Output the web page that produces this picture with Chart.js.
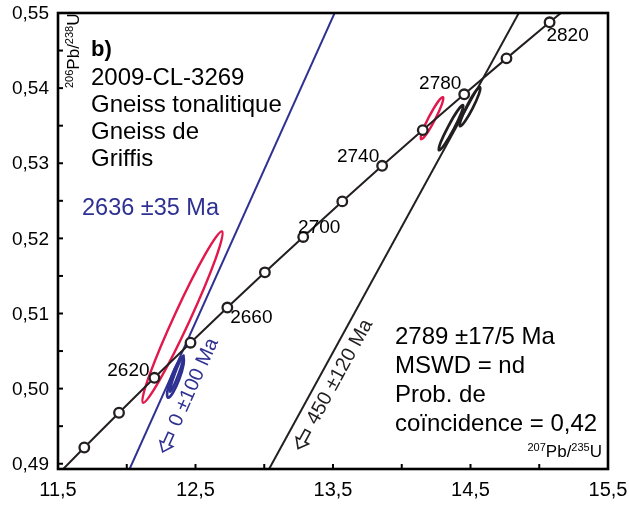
<!DOCTYPE html>
<html><head><meta charset="utf-8">
<script src="https://cdn.jsdelivr.net/npm/chart.js@4/dist/chart.umd.min.js"></script>
<style>html,body{margin:0;padding:0;background:#fff;}#wrap{width:629px;height:508px;}</style>
</head><body><div id="wrap"><canvas id="c" width="629" height="508"></canvas></div>
<script>
// Concordia reference points (Ma) and their 207Pb/235U, 206Pb/238U coordinates
const concordiaAges = [2560, 2580, 2600, 2620, 2640, 2660, 2680, 2700, 2720, 2740, 2760, 2780, 2800, 2820, 2840];
const concordiaX = [11.44372, 11.69124, 11.94370, 12.20119, 12.46379, 12.73161, 13.00477, 13.28336, 13.56748, 13.85727, 14.15281, 14.45424, 14.76166, 15.07518, 15.39497];
const concordiaY = [0.48754, 0.49216, 0.49679, 0.50144, 0.50611, 0.51079, 0.51548, 0.52019, 0.52492, 0.52966, 0.53441, 0.53918, 0.54396, 0.54876, 0.55357];
const labelledAges = [2620, 2660, 2700, 2740, 2780, 2820];

// Discordia lines (where they cross the frame)
const blueDiscordiaX = [12.0133, 13.5364];
const blueDiscordiaY = [0.489, 0.551];
const blackDiscordiaX = [13.0261, 14.8812];
const blackDiscordiaY = [0.489, 0.551];

// Error ellipses: tips of the long axis and minor/major ratio
const ellipseGroup = ['red', 'red', 'blue', 'blue', 'black', 'black'];
const ellipseX1 = [12.1182, 14.1400, 12.3000, 12.3150, 14.2709, 14.4236];
const ellipseY1 = [0.49813, 0.53320, 0.49880, 0.49960, 0.53173, 0.53493];
const ellipseX2 = [12.6927, 14.3000, 12.4091, 12.4130, 14.4455, 14.5690];
const ellipseY2 = [0.52093, 0.53880, 0.50413, 0.50440, 0.53773, 0.54013];
const ellipseRatio = [0.085, 0.14, 0.19, 0.10, 0.12, 0.14];

// Axis ticks
const xTickValues = [11.5, 12, 12.5, 13, 13.5, 14, 14.5, 15, 15.5];
const xTickLabels = ['11,5', '', '12,5', '', '13,5', '', '14,5', '', '15,5'];
const yTickValues = [0.49, 0.495, 0.50, 0.505, 0.51, 0.515, 0.52, 0.525, 0.53, 0.535, 0.54, 0.545, 0.55];
const yTickLabels = ['0,49', '', '0,50', '', '0,51', '', '0,52', '', '0,53', '', '0,54', '', '0,55'];

const RED = '#e2174b', BLUE = '#2e3192', BLK = '#231f20';
const FONT = '"Liberation Sans", Arial, sans-serif';
const colorOf = {red: RED, blue: BLUE, black: BLK};

function pts(xs, ys) { return xs.map((x, i) => ({x: x, y: ys[i]})); }

function drawParts(ctx, parts, x, y) {
  let cx = x;
  for (const p of parts) {
    ctx.font = p.sup ? ('11px ' + FONT) : ('17px ' + FONT);
    ctx.fillText(p.t, cx, y + (p.sup ? -6 : 0));
    cx += ctx.measureText(p.t).width;
  }
  return cx - x;
}
function partsWidth(ctx, parts) {
  let w = 0;
  for (const p of parts) { ctx.font = p.sup ? ('11px ' + FONT) : ('17px ' + FONT); w += ctx.measureText(p.t).width; }
  return w;
}

const deco = {
  id: 'deco',
  beforeDatasetsDraw(chart) {
    const {ctx, chartArea: a, scales: {x, y}} = chart;
    ctx.save();
    ctx.beginPath(); ctx.rect(a.left, a.top, a.right - a.left, a.bottom - a.top); ctx.clip();
    for (let i = 0; i < ellipseGroup.length; i++) {
      const p1x = x.getPixelForValue(ellipseX1[i]), p1y = y.getPixelForValue(ellipseY1[i]);
      const p2x = x.getPixelForValue(ellipseX2[i]), p2y = y.getPixelForValue(ellipseY2[i]);
      const cx = (p1x + p2x) / 2, cy = (p1y + p2y) / 2;
      const ra = Math.hypot(p2x - p1x, p2y - p1y) / 2;
      const ang = Math.atan2(p2y - p1y, p2x - p1x);
      ctx.beginPath();
      ctx.ellipse(cx, cy, ra, ra * ellipseRatio[i], ang, 0, Math.PI * 2);
      ctx.strokeStyle = colorOf[ellipseGroup[i]];
      ctx.lineWidth = ellipseGroup[i] === 'red' ? 2.4 : 2.7;
      ctx.stroke();
    }
    ctx.restore();
  },
  afterDraw(chart) {
    const {ctx, chartArea: a, scales: {x, y}} = chart;
    ctx.save();
    // frame
    ctx.strokeStyle = '#000'; ctx.lineWidth = 2.6;
    ctx.strokeRect(a.left, a.top, a.right - a.left, a.bottom - a.top);
    // ticks
    ctx.lineWidth = 2;
    ctx.fillStyle = '#000';
    ctx.font = '20px ' + FONT;
    ctx.textAlign = 'center'; ctx.textBaseline = 'middle';
    xTickValues.forEach((v, i) => {
      const px = x.getPixelForValue(v);
      ctx.beginPath(); ctx.moveTo(px, a.bottom); ctx.lineTo(px, a.bottom - 5); ctx.stroke();
      if (xTickLabels[i]) ctx.fillText(xTickLabels[i], px, a.bottom + 21);
    });
    ctx.textAlign = 'right';
    ctx.font = '19px ' + FONT;
    yTickValues.forEach((v, i) => {
      const py = y.getPixelForValue(v);
      ctx.beginPath(); ctx.moveTo(a.left, py); ctx.lineTo(a.left + 5, py); ctx.stroke();
      if (yTickLabels[i]) ctx.fillText(yTickLabels[i], a.left - 9, py + 1);
    });
    // age labels on concordia
    const off = {2620: [-26, -7], 2660: [24, 10], 2700: [16, -9], 2740: [-24, -9], 2780: [-24, -11], 2820: [18, 13]};
    ctx.textAlign = 'center';
    ctx.font = '19px ' + FONT;
    labelledAges.forEach(ag => {
      const i = concordiaAges.indexOf(ag);
      const px = x.getPixelForValue(concordiaX[i]), py = y.getPixelForValue(concordiaY[i]);
      ctx.fillText(String(ag), px + off[ag][0], py + off[ag][1]);
    });
    // rotated discordia labels with hollow arrow
    function rotLabel(xs, ys, text, color, cxv, cyv) {
      const ax = x.getPixelForValue(xs[0]), ay = y.getPixelForValue(ys[0]);
      const bx = x.getPixelForValue(xs[1]), by = y.getPixelForValue(ys[1]);
      const ang = Math.atan2(by - ay, bx - ax);
      ctx.save();
      ctx.translate(x.getPixelForValue(cxv), y.getPixelForValue(cyv));
      ctx.rotate(ang);
      ctx.fillStyle = color; ctx.strokeStyle = color;
      ctx.textAlign = 'left'; ctx.textBaseline = 'middle';
      ctx.font = '20px ' + FONT;
      const tw = ctx.measureText(text).width;
      const aw = 20, gap = 9;
      const start = -(aw + gap + tw) / 2;
      // hollow arrow pointing back along the line
      ctx.lineWidth = 1.6; ctx.lineJoin = 'miter';
      ctx.beginPath();
      ctx.moveTo(start, 0);
      ctx.lineTo(start + 9, -7);
      ctx.lineTo(start + 9, -3);
      ctx.lineTo(start + aw, -3);
      ctx.lineTo(start + aw, 3);
      ctx.lineTo(start + 9, 3);
      ctx.lineTo(start + 9, 7);
      ctx.closePath();
      ctx.stroke();
      ctx.fillText(text, start + aw + gap, 0);
      ctx.restore();
    }
    rotLabel(blueDiscordiaX, blueDiscordiaY, '0 \u00B1100 Ma', BLUE, 12.4455, 0.49907);
    rotLabel(blackDiscordiaX, blackDiscordiaY, '450 \u00B1120 Ma', BLK, 13.50, 0.50053);
    // text blocks
    ctx.textAlign = 'left'; ctx.textBaseline = 'middle';
    ctx.fillStyle = '#000';
    ctx.font = 'bold 22px ' + FONT;
    ctx.fillText('b)', 91, 50);
    ctx.font = '24px ' + FONT;
    ['2009-CL-3269', 'Gneiss tonalitique', 'Gneiss de', 'Griffis'].forEach((t, i) => ctx.fillText(t, 91, 78 + 27 * i));
    ctx.fillStyle = BLUE;
    ctx.font = '23.5px ' + FONT;
    ctx.fillText('2636 \u00B135 Ma', 82, 209);
    ctx.fillStyle = '#000';
    ctx.font = '24px ' + FONT;
    ['2789 \u00B117/5 Ma', 'MSWD = nd', 'Prob. de', 'co\u00EFncidence = 0,42'].forEach((t, i) => ctx.fillText(t, 395, 337 + 29 * i));
    // axis titles
    ctx.textBaseline = 'alphabetic';
    const xt = [{t: '207', sup: true}, {t: 'Pb/'}, {t: '235', sup: true}, {t: 'U'}];
    drawParts(ctx, xt, 602 - partsWidth(ctx, xt), 457);
    const yt = [{t: '206', sup: true}, {t: 'Pb/'}, {t: '238', sup: true}, {t: 'U'}];
    ctx.save();
    ctx.translate(79, 88); ctx.rotate(-Math.PI / 2);
    drawParts(ctx, yt, 0, 0);
    ctx.restore();
    ctx.restore();
  }
};

new Chart(document.getElementById('c'), {
  type: 'scatter',
  data: {
    datasets: [
      {data: pts(concordiaX, concordiaY), showLine: true, borderColor: BLK, borderWidth: 2,
       pointRadius: 4.8, pointBackgroundColor: '#fff', pointBorderColor: BLK, pointBorderWidth: 2.3, tension: 0},
      {data: pts(blueDiscordiaX, blueDiscordiaY), showLine: true, borderColor: BLUE, borderWidth: 2, pointRadius: 0},
      {data: pts(blackDiscordiaX, blackDiscordiaY), showLine: true, borderColor: BLK, borderWidth: 2, pointRadius: 0}
    ]
  },
  options: {
    responsive: false, animation: false, devicePixelRatio: 1,
    layout: {padding: {top: 13, right: 21, left: 0, bottom: 0}},
    plugins: {legend: {display: false}, tooltip: {enabled: false}},
    scales: {
      x: {type: 'linear', min: 11.5, max: 15.5, ticks: {display: false}, grid: {display: false}, border: {display: false},
          afterFit: s => { s.height = 39; }},
      y: {type: 'linear', min: 0.4893, max: 0.55, ticks: {display: false}, grid: {display: false}, border: {display: false},
          afterFit: s => { s.width = 58; }}
    }
  },
  plugins: [deco]
});
</script></body></html>
